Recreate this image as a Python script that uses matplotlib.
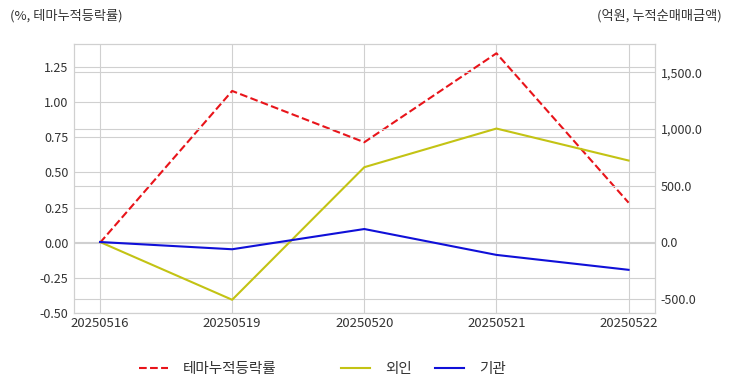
import matplotlib
matplotlib.use('Agg')
import matplotlib.pyplot as plt

plt.rcParams['font.family'] = ['Noto Sans CJK KR', 'DejaVu Sans']
plt.rcParams['axes.unicode_minus'] = False

dates = ['20250516', '20250519', '20250520', '20250521', '20250522']
theme_rate = [0.0, 1.08, 0.715, 1.348, 0.285]
foreign = [0.0, -511.0, 662.0, 1004.0, 721.0]
institution = [0.0, -64.0, 115.0, -114.0, -246.0]

grid_c = '#d0d0d0'
text_c = '#333333'

fig = plt.figure(figsize=(7.32, 3.92), dpi=100)
ax = fig.add_axes([74 / 732, 1 - 313 / 392, 581 / 732, 269 / 392])
ax2 = ax.twinx()

x = range(len(dates))
l1, = ax.plot(x, theme_rate, '--', color='#e8141a', lw=1.5, label='테마누적등락률')
l2, = ax2.plot(x, foreign, '-', color='#c3c314', lw=1.5, label='외인')
l3, = ax2.plot(x, institution, '-', color='#1010d8', lw=1.5, label='기관')

ax.set_xlim(-0.197, 4.2)
ax.set_ylim(-0.5, 1.414)
ax2.set_ylim(-628, 1752)
ax.set_xticks(list(x))
ax.set_xticklabels(dates)
ax.set_yticks([-0.5, -0.25, 0, 0.25, 0.5, 0.75, 1.0, 1.25])
ax.set_yticklabels(['%.2f' % v for v in ax.get_yticks()])
ax2.set_yticks([-500, 0, 500, 1000, 1500])
ax2.set_yticklabels(['{:,.1f}'.format(v) for v in ax2.get_yticks()])

for a in (ax, ax2):
    a.grid(True, color=grid_c, lw=0.8)
    a.set_axisbelow(True)
    a.tick_params(length=0, labelsize=9, colors=text_c, pad=4)
    for s in a.spines.values():
        s.set_color(grid_c)
ax2.xaxis.grid(False)
ax.tick_params(axis='x', pad=3, labelsize=9.5)

fig.text(10 / 732, 1 - 16 / 392, '(%, 테마누적등락률)', fontsize=9.5, color=text_c, va='center', ha='left')
fig.text(722 / 732, 1 - 16 / 392, '(억원, 누적순매매금액)', fontsize=9.5, color=text_c, va='center', ha='right')

# legend entries placed one by one (uneven spacing in the original)
for h, xpos in ((l1, 139), (l2, 341), (l3, 435)):
    fig.legend(handles=[h], loc='center left', bbox_to_anchor=(xpos / 732, 1 - 369 / 392),
               frameon=False, fontsize=10.5, handlelength=2.0, handletextpad=1.0,
               borderpad=0, borderaxespad=0, labelcolor=text_c)

fig.savefig('out.png', dpi=100)
